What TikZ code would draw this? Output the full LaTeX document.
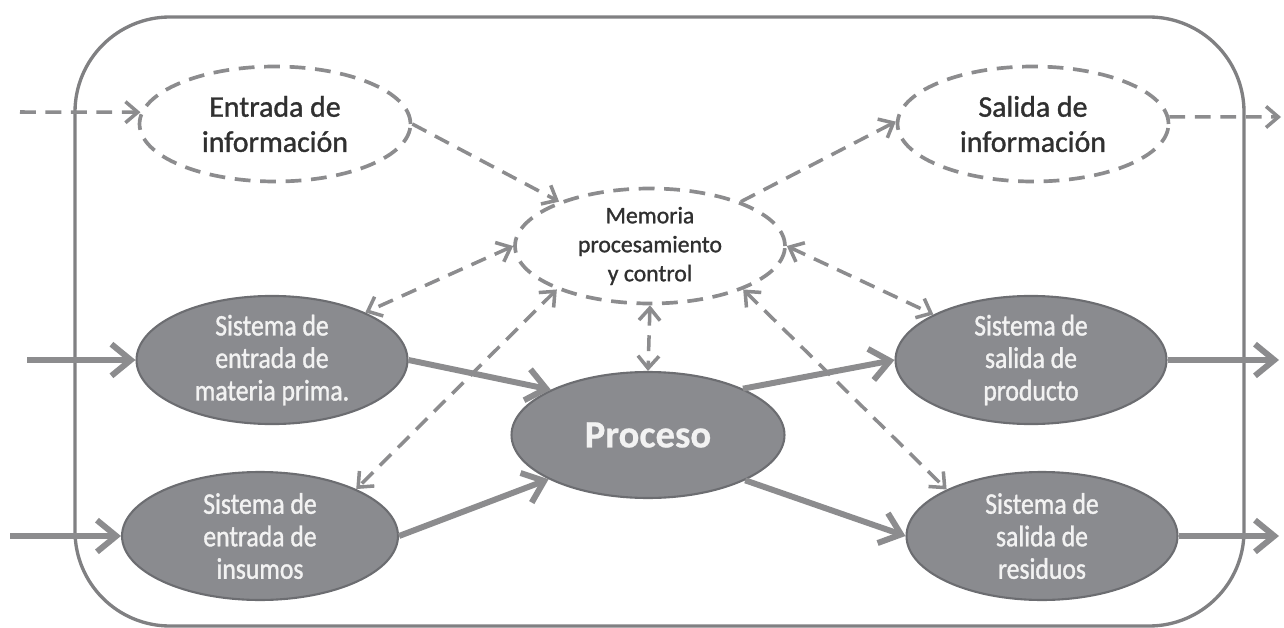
\documentclass[tikz,border=0pt]{standalone}
\usepackage{fontspec}
\setmainfont{Carlito}[FakeBold=0.6]
\newfontfamily\darkfont{Carlito}[FakeBold=1.2]
\newfontfamily\narrowfont{Carlito}[FakeStretch=0.86, FakeBold=1.2]
\usetikzlibrary{shapes.geometric, arrows.meta, positioning}
\definecolor{framegray}{RGB}{128,128,130}
\definecolor{dashgray}{RGB}{140,140,142}
\definecolor{fillgray}{RGB}{138,139,143}
\definecolor{bordergray}{RGB}{108,109,113}
\definecolor{textdark}{RGB}{48,48,48}
\definecolor{textlight}{RGB}{242,242,242}

\tikzset{
    info/.style={ellipse, draw=dashgray, line width=2.1pt, dash pattern=on 9pt off 5.5pt,
        minimum width=5.42cm, minimum height=2.3cm, inner sep=0pt, align=center,
        text=textdark, font=\darkfont\fontsize{17}{20}\selectfont},
    sistema/.style={ellipse, draw=bordergray, fill=fillgray, line width=1.2pt,
        minimum width=5.42cm, minimum height=2.4cm, inner sep=0pt, align=center,
        text=textlight, font=\narrowfont\fontsize{17}{18.5}\selectfont},
    flujo/.style={draw=dashgray, line width=3.4pt, -{Straight Barb[length=11pt,width=18pt]}},
    senal/.style={draw=dashgray, line width=2pt, dash pattern=on 9pt off 5.5pt,
        -{Straight Barb[length=7pt,width=12pt]}},
    dobleflecha/.style={senal, {Straight Barb[length=7pt,width=12pt]}-{Straight Barb[length=7pt,width=12pt]}}
}

\begin{document}
\begin{tikzpicture}[x=0.02cm, y=-0.02cm]
            \useasboundingbox (0,0) rectangle (1284,628);
            \draw[framegray, line width=1.9pt, rounded corners=1.9cm] (75,17) rectangle (1244,626);

            \node[info] (ent) at (275,124) {Entrada de\\información};
            \node[info] (sal) at (1033,124) {Salida de\\información};
            \node[info, minimum width=5.4cm, font=\darkfont\fontsize{13.5}{16.5}\selectfont] (mem) at (650,246)
                {Memoria\\procesamiento\\y control};
            \node[sistema] (mat) at (272,360) {Sistema de\\entrada de\\materia prima.};
            \node[sistema, minimum width=5.52cm, minimum height=2.56cm] (ins) at (260,536)
                {Sistema de\\entrada de\\insumos};
            \node[sistema, minimum width=5.46cm, minimum height=2.52cm,
                font=\bfseries\fontsize{22}{26}\selectfont] (pro) at (648,435) {Proceso};
            \node[sistema] (prd) at (1031,360) {Sistema de\\salida de\\producto};
            \node[sistema, minimum height=2.56cm] (res) at (1042,536) {Sistema de\\salida de\\residuos};

            \coordinate (i1) at (20,112);
            \coordinate (i2) at (27,360);
            \coordinate (i3) at (10,536);
            \coordinate (o1) at (1281,117);
            \coordinate (o2) at (1279,360);
            \coordinate (o3) at (1279,536);

            \draw[senal] (i1) -- (ent.175);
            \draw[senal] (ent.east) -- (mem.154);
            \draw[senal] (mem.26) -- (sal.179);
            \draw[senal] (sal.3) -- (o1);
            \draw[dobleflecha] (mem.west) -- (mat.27);
            \draw[dobleflecha] (mem.205) -- (ins.26);
            \draw[dobleflecha] (mem.south) -- (pro.north);
            \draw[dobleflecha] (mem.east) -- (prd.155);
            \draw[dobleflecha] (mem.335) -- (res.154);

            \draw[flujo] (i2) -- (mat.west);
            \draw[flujo] (i3) -- (ins.west);
            \draw[flujo] (mat.east) -- (pro.155);
            \draw[flujo] (ins.east) -- (pro.204);
            \draw[flujo] (pro.26) -- (prd.west);
            \draw[flujo] (pro.335) -- (res.west);
            \draw[flujo] (prd.east) -- (o2);
            \draw[flujo] (res.east) -- (o3);
\end{tikzpicture}
\end{document}
